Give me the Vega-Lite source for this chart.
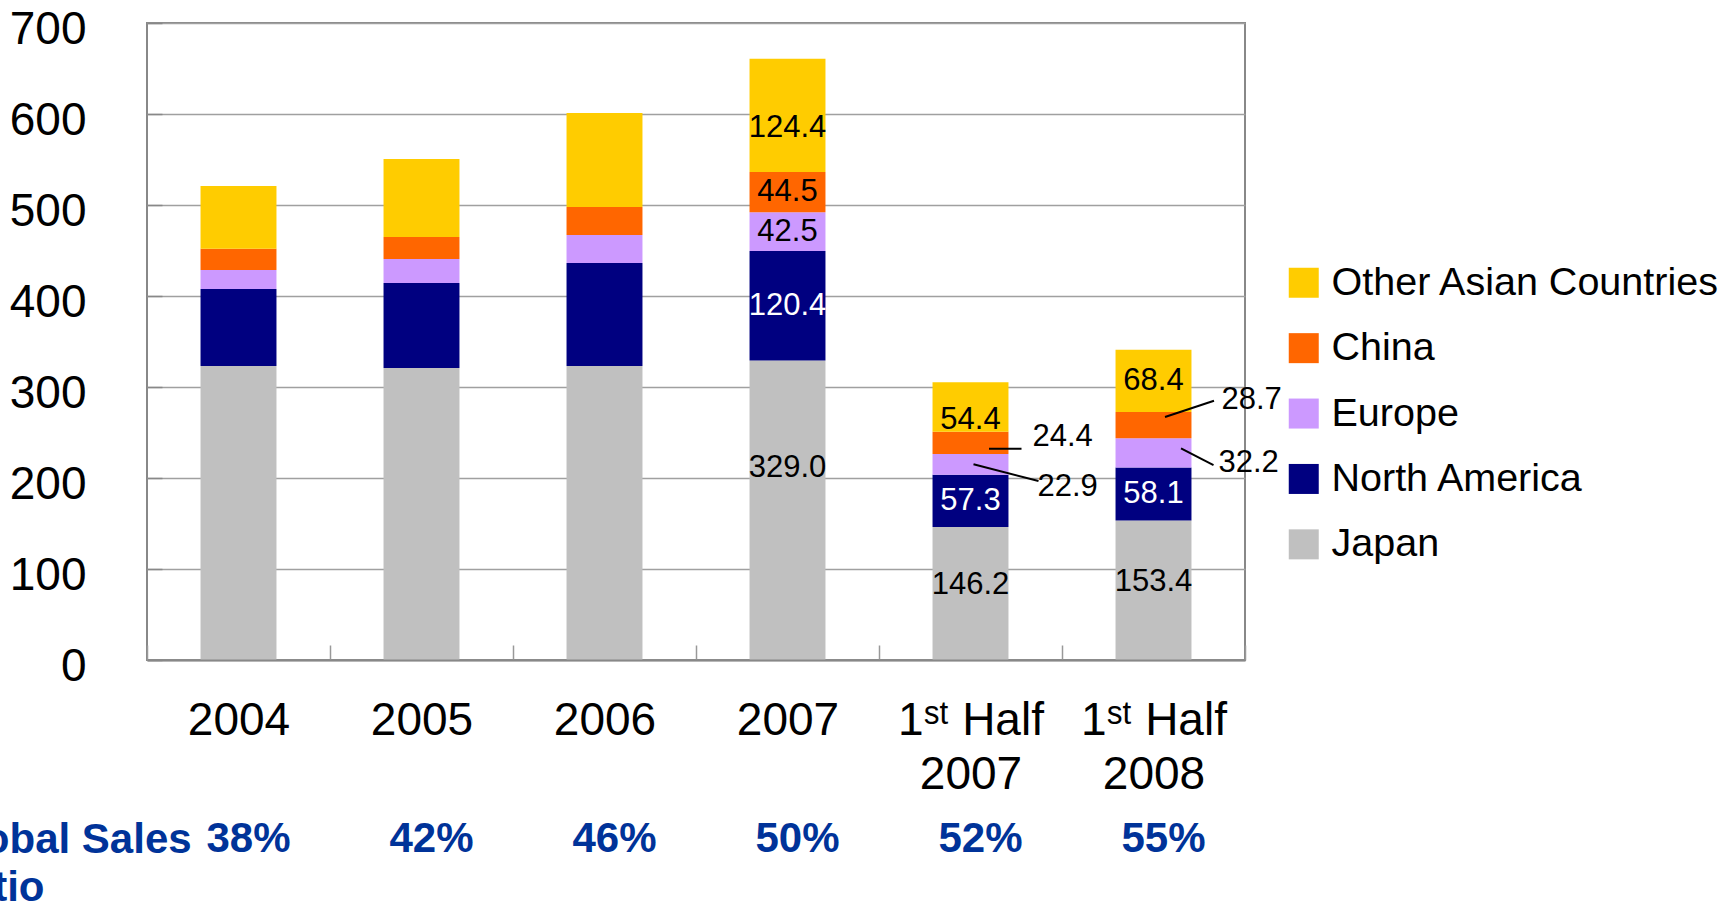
{
  "$schema": "https://vega.github.io/schema/vega-lite/v6.json",
  "width": 1098,
  "height": 637,
  "autosize": {"type": "none"},
  "padding": {"left": 147, "top": 23, "right": 486, "bottom": 242},
  "background": "white",
  "config": {
    "font": "Liberation Sans",
    "view": {"stroke": "#888888", "strokeWidth": 2}
  },
  "datasets": {
    "sales": [
      {"period": "2004", "region": "Japan", "value": 323.0},
      {"period": "2004", "region": "North America", "value": 84.7},
      {"period": "2004", "region": "Europe", "value": 20.9},
      {"period": "2004", "region": "China", "value": 23.4},
      {"period": "2004", "region": "Other Asian Countries", "value": 68.9},
      {"period": "2005", "region": "Japan", "value": 320.9},
      {"period": "2005", "region": "North America", "value": 93.4},
      {"period": "2005", "region": "Europe", "value": 26.4},
      {"period": "2005", "region": "China", "value": 24.1},
      {"period": "2005", "region": "Other Asian Countries", "value": 85.7},
      {"period": "2006", "region": "Japan", "value": 323.0},
      {"period": "2006", "region": "North America", "value": 113.3},
      {"period": "2006", "region": "Europe", "value": 30.7},
      {"period": "2006", "region": "China", "value": 30.8},
      {"period": "2006", "region": "Other Asian Countries", "value": 103.2},
      {"period": "2007", "region": "Japan", "value": 329.0},
      {"period": "2007", "region": "North America", "value": 120.4},
      {"period": "2007", "region": "Europe", "value": 42.5},
      {"period": "2007", "region": "China", "value": 44.5},
      {"period": "2007", "region": "Other Asian Countries", "value": 124.4},
      {"period": "1st Half 2007", "region": "Japan", "value": 146.2},
      {"period": "1st Half 2007", "region": "North America", "value": 57.3},
      {"period": "1st Half 2007", "region": "Europe", "value": 22.9},
      {"period": "1st Half 2007", "region": "China", "value": 24.4},
      {"period": "1st Half 2007", "region": "Other Asian Countries", "value": 54.4},
      {"period": "1st Half 2008", "region": "Japan", "value": 153.4},
      {"period": "1st Half 2008", "region": "North America", "value": 58.1},
      {"period": "1st Half 2008", "region": "Europe", "value": 32.2},
      {"period": "1st Half 2008", "region": "China", "value": 28.7},
      {"period": "1st Half 2008", "region": "Other Asian Countries", "value": 68.4}
    ],
    "ratios": [
      {"period": "2004", "ratio": "38%"},
      {"period": "2005", "ratio": "42%"},
      {"period": "2006", "ratio": "46%"},
      {"period": "2007", "ratio": "50%"},
      {"period": "1st Half 2007", "ratio": "52%"},
      {"period": "1st Half 2008", "ratio": "55%"}
    ]
  },
  "data": {"name": "sales"},
  "transform": [{"window": [{"op": "row_number", "as": "rank"}], "groupby": ["period"]}],
  "encoding": {
    "x": {
      "field": "period",
      "type": "nominal",
      "sort": null,
      "scale": {"domain": ["2004", "2005", "2006", "2007", "1st Half 2007", "1st Half 2008"], "paddingInner": 0, "paddingOuter": 0},
      "axis": {
        "labelAngle": 0,
        "labelFontSize": 46,
        "labelColor": "black",
        "labelPadding": 53,
        "labelLineHeight": 54,
        "labelBaseline": "top",
        "labelLimit": 0,
        "labelOverlap": false,
        "labelExpr": "indexof(datum.label, 'Half') >= 0 ? ['1ˢᵗ Half', slice(datum.label, -4)] : datum.label",
        "tickBand": "extent",
        "tickSize": -15,
        "tickColor": "#999999",
        "tickWidth": 1.5,
        "domain": true,
        "domainColor": "#888888",
        "domainWidth": 2,
        "grid": false,
        "zindex": 1,
        "title": ["Global Sales", "Ratio"],
        "titleX": -208,
        "titleY": 192,
        "titleAlign": "left",
        "titleBaseline": "alphabetic",
        "titleFontSize": 42,
        "titleFontWeight": "bold",
        "titleColor": "#003399",
        "titleLineHeight": 48
      }
    }
  },
  "layer": [
    {
      "mark": {"type": "bar", "width": {"band": 0.415}},
      "encoding": {
        "y": {
          "field": "value",
          "type": "quantitative",
          "stack": "zero",
          "scale": {"domain": [0, 700], "nice": false},
          "axis": {
            "values": [0, 100, 200, 300, 400, 500, 600, 700],
            "title": null,
            "grid": true,
            "gridColor": "#a0a0a0",
            "gridWidth": 1.5,
            "domain": false,
            "tickSize": -15,
            "tickColor": "#888888",
            "tickWidth": 1.5,
            "labelFontSize": 46,
            "labelColor": "black",
            "labelPadding": 76,
            "labelOffset": 6
          }
        },
        "color": {
          "field": "region",
          "type": "nominal",
          "scale": {
            "domain": ["Other Asian Countries", "China", "Europe", "North America", "Japan"],
            "range": ["#FFCC00", "#FF6600", "#CC99FF", "#000080", "#C0C0C0"]
          },
          "legend": {
            "orient": "none",
            "legendX": 1137,
            "legendY": 240,
            "title": null,
            "padding": 0,
            "symbolType": "square",
            "symbolSize": 900,
            "symbolStrokeWidth": 0,
            "labelFontSize": 39.5,
            "labelColor": "black",
            "labelOffset": 8,
            "labelLimit": 0,
            "rowPadding": 24.4
          }
        },
        "order": {"field": "rank", "type": "quantitative"}
      }
    },
    {
      "mark": {"type": "text", "fontSize": 31, "baseline": "middle", "color": "black"},
      "encoding": {
        "y": {"field": "value", "type": "quantitative", "stack": "zero", "bandPosition": 0.5},
        "order": {"field": "rank", "type": "quantitative"},
        "detail": {"field": "region"},
        "text": {"condition": {"test": "(datum.period === '2007' && (datum.region === 'China' || datum.region === 'Europe')) || (datum.period === '1st Half 2008' && datum.region === 'Other Asian Countries')", "field": "value", "type": "quantitative", "format": ".1f"}, "value": ""}
      }
    },
    {
      "mark": {"type": "text", "fontSize": 31, "baseline": "middle", "color": "white"},
      "encoding": {
        "y": {"field": "value", "type": "quantitative", "stack": "zero", "bandPosition": 0.5},
        "order": {"field": "rank", "type": "quantitative"},
        "detail": {"field": "region"},
        "text": {"condition": {"test": "datum.region === 'North America' && (datum.period === '2007' || indexof(datum.period, 'Half') >= 0)", "field": "value", "type": "quantitative", "format": ".1f"}, "value": ""}
      }
    },
    {
      "mark": {"type": "text", "fontSize": 31, "baseline": "middle", "color": "black", "dy": 13},
      "encoding": {
        "y": {"field": "value", "type": "quantitative", "stack": "zero", "bandPosition": 0.5},
        "order": {"field": "rank", "type": "quantitative"},
        "detail": {"field": "region"},
        "text": {"condition": {"test": "datum.region === 'Other Asian Countries' && (datum.period === '2007' || datum.period === '1st Half 2007')", "field": "value", "type": "quantitative", "format": ".1f"}, "value": ""}
      }
    },
    {
      "mark": {"type": "text", "fontSize": 31, "baseline": "middle", "color": "black", "dy": -8},
      "encoding": {
        "y": {"field": "value", "type": "quantitative", "stack": "zero", "bandPosition": 0.5},
        "order": {"field": "rank", "type": "quantitative"},
        "detail": {"field": "region"},
        "text": {"condition": {"test": "datum.region === 'Japan' && indexof(datum.period, 'Half') >= 0", "field": "value", "type": "quantitative", "format": ".1f"}, "value": ""}
      }
    },
    {
      "mark": {"type": "text", "fontSize": 31, "baseline": "middle", "color": "black", "dy": -42},
      "encoding": {
        "y": {"field": "value", "type": "quantitative", "stack": "zero", "bandPosition": 0.5},
        "order": {"field": "rank", "type": "quantitative"},
        "detail": {"field": "region"},
        "text": {"condition": {"test": "datum.region === 'Japan' && datum.period === '2007'", "field": "value", "type": "quantitative", "format": ".1f"}, "value": ""}
      }
    },
    {
      "mark": {"type": "text", "fontSize": 31, "baseline": "middle", "align": "left", "color": "black", "dx": 62, "dy": -6},
      "encoding": {
        "y": {"field": "value", "type": "quantitative", "stack": "zero", "bandPosition": 0.5},
        "order": {"field": "rank", "type": "quantitative"},
        "detail": {"field": "region"},
        "text": {"condition": {"test": "datum.region === 'China' && datum.period === '1st Half 2007'", "field": "value", "type": "quantitative", "format": ".1f"}, "value": ""}
      }
    },
    {
      "mark": {"type": "text", "fontSize": 31, "baseline": "middle", "align": "left", "color": "black", "dx": 67, "dy": 23},
      "encoding": {
        "y": {"field": "value", "type": "quantitative", "stack": "zero", "bandPosition": 0.5},
        "order": {"field": "rank", "type": "quantitative"},
        "detail": {"field": "region"},
        "text": {"condition": {"test": "datum.region === 'Europe' && datum.period === '1st Half 2007'", "field": "value", "type": "quantitative", "format": ".1f"}, "value": ""}
      }
    },
    {
      "mark": {"type": "text", "fontSize": 31, "baseline": "middle", "align": "left", "color": "black", "dx": 68, "dy": -25},
      "encoding": {
        "y": {"field": "value", "type": "quantitative", "stack": "zero", "bandPosition": 0.5},
        "order": {"field": "rank", "type": "quantitative"},
        "detail": {"field": "region"},
        "text": {"condition": {"test": "datum.region === 'China' && datum.period === '1st Half 2008'", "field": "value", "type": "quantitative", "format": ".1f"}, "value": ""}
      }
    },
    {
      "mark": {"type": "text", "fontSize": 31, "baseline": "middle", "align": "left", "color": "black", "dx": 65, "dy": 10},
      "encoding": {
        "y": {"field": "value", "type": "quantitative", "stack": "zero", "bandPosition": 0.5},
        "order": {"field": "rank", "type": "quantitative"},
        "detail": {"field": "region"},
        "text": {"condition": {"test": "datum.region === 'Europe' && datum.period === '1st Half 2008'", "field": "value", "type": "quantitative", "format": ".1f"}, "value": ""}
      }
    },
    {
      "transform": [
        {"stack": "value", "groupby": ["period"], "sort": [{"field": "rank", "order": "ascending"}], "as": ["v0", "v1"]},
        {"filter": "datum.region === 'China' && datum.period === '1st Half 2007'"}
      ],
      "mark": {"type": "rule", "color": "black", "strokeWidth": 2, "xOffset": 18.5, "x2Offset": 51, "yOffset": -5.3, "y2Offset": -5.3},
      "encoding": {
        "x2": {"field": "period"},
        "y": {"field": "v0", "type": "quantitative"},
        "y2": {"field": "v0"}
      }
    },
    {
      "transform": [
        {"stack": "value", "groupby": ["period"], "sort": [{"field": "rank", "order": "ascending"}], "as": ["v0", "v1"]},
        {"filter": "datum.region === 'Europe' && datum.period === '1st Half 2007'"}
      ],
      "mark": {"type": "rule", "color": "black", "strokeWidth": 2, "xOffset": 3, "x2Offset": 68, "yOffset": -10.5, "y2Offset": 6.2},
      "encoding": {
        "x2": {"field": "period"},
        "y": {"field": "v0", "type": "quantitative"},
        "y2": {"field": "v0"}
      }
    },
    {
      "transform": [
        {"stack": "value", "groupby": ["period"], "sort": [{"field": "rank", "order": "ascending"}], "as": ["v0", "v1"]},
        {"filter": "datum.region === 'China' && datum.period === '1st Half 2008'"}
      ],
      "mark": {"type": "rule", "color": "black", "strokeWidth": 2, "xOffset": 11.5, "x2Offset": 60.5, "yOffset": -21.2, "y2Offset": -37.5},
      "encoding": {
        "x2": {"field": "period"},
        "y": {"field": "v0", "type": "quantitative"},
        "y2": {"field": "v0"}
      }
    },
    {
      "transform": [
        {"stack": "value", "groupby": ["period"], "sort": [{"field": "rank", "order": "ascending"}], "as": ["v0", "v1"]},
        {"filter": "datum.region === 'Europe' && datum.period === '1st Half 2008'"}
      ],
      "mark": {"type": "rule", "color": "black", "strokeWidth": 2, "xOffset": 27.5, "x2Offset": 60, "yOffset": -19.2, "y2Offset": -2.5},
      "encoding": {
        "x2": {"field": "period"},
        "y": {"field": "v0", "type": "quantitative"},
        "y2": {"field": "v0"}
      }
    },
    {
      "data": {"name": "ratios"},
      "mark": {"type": "text", "fontSize": 42, "fontWeight": "bold", "color": "#003399", "baseline": "alphabetic", "dx": 10, "dy": 192},
      "encoding": {
        "y": {"datum": 0, "type": "quantitative"},
        "text": {"field": "ratio"}
      }
    }
  ]
}
